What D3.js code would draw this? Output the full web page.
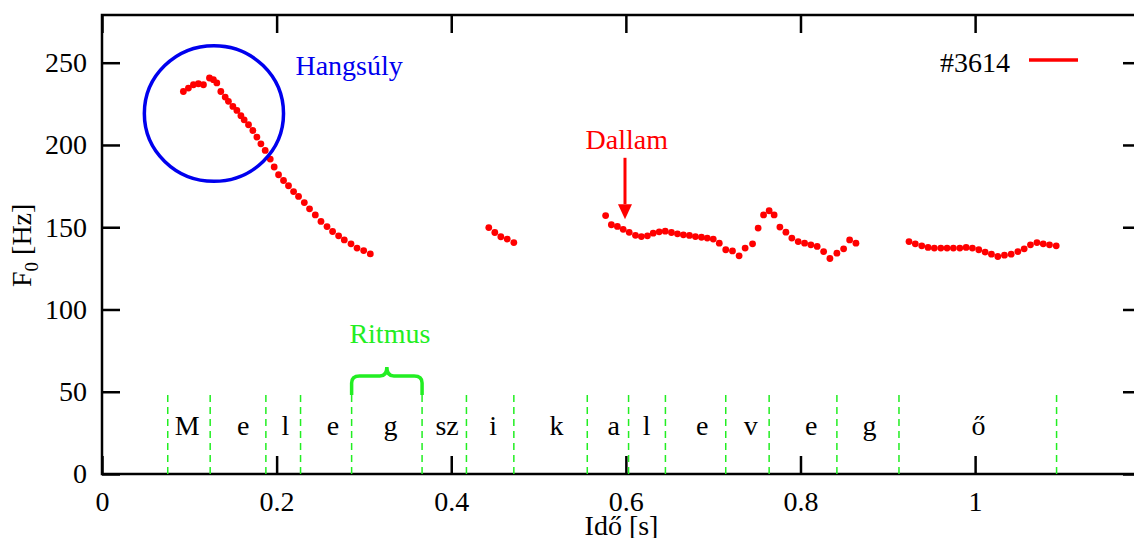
<!DOCTYPE html>
<html>
<head>
<meta charset="utf-8">
<script src="https://cdn.jsdelivr.net/npm/d3@7"></script>
<style>
	body { margin: 0; background: #fff; }
</style>
</head>
<body>
<svg width="1134" height="538"></svg>
<script>
	// F0 track of recording #3614 (time in s, F0 in Hz)
	const f0Time = [
		0.0932, 0.0990, 0.1047, 0.1104, 0.1162, 0.1231, 0.1276, 0.1315, 0.1361, 0.1411,
		0.1448, 0.1499, 0.1545, 0.1591, 0.1628, 0.1678, 0.1728, 0.1774, 0.1820, 0.1869,
		0.1927, 0.1972, 0.2022, 0.2079, 0.2136, 0.2194, 0.2251, 0.2317, 0.2377, 0.2443,
		0.2508, 0.2577, 0.2641, 0.2710, 0.2775, 0.2852, 0.2921, 0.2997, 0.3073,
		0.4430, 0.4499, 0.4568, 0.4641, 0.4717,
		0.5768, 0.5834, 0.5903, 0.5969, 0.6038, 0.6110, 0.6178, 0.6247, 0.6313, 0.6382,
		0.6451, 0.6522, 0.6591, 0.6659, 0.6728, 0.6797, 0.6866, 0.6932, 0.7001, 0.7070,
		0.7144, 0.7221, 0.7297, 0.7366, 0.7451, 0.7515, 0.7577, 0.7641, 0.7698, 0.7764,
		0.7833, 0.7901, 0.7974, 0.8047, 0.8119, 0.8191, 0.8265, 0.8337, 0.8417, 0.8494,
		0.8563, 0.8635,
		0.9243, 0.9315, 0.9389, 0.9461, 0.9533, 0.9607, 0.9679, 0.9751, 0.9825, 0.9897,
		0.9969, 1.0042, 1.0115, 1.0187, 1.0260, 1.0336, 1.0413, 1.0490, 1.0562, 1.0634,
		1.0708, 1.0780, 1.0852, 1.0929
	];
	const f0Hz = [
		232.5, 234.6, 236.6, 237.2, 236.6, 240.7, 239.7, 237.7, 232.5, 229.1,
		226.5, 223.4, 221.0, 217.8, 215.3, 212.3, 208.8, 204.8, 200.7, 196.7,
		191.4, 186.6, 181.9, 178.4, 175.2, 171.7, 168.7, 165.0, 161.2, 157.5,
		153.5, 150.4, 147.4, 144.8, 142.3, 139.9, 137.3, 135.8, 133.8,
		149.8, 146.8, 144.2, 142.8, 140.7,
		157.1, 151.5, 150.5, 148.7, 146.9, 145.1, 144.3, 144.8, 146.4, 147.2,
		147.6, 146.8, 146.0, 145.4, 145.0, 144.3, 143.9, 143.4, 142.8, 140.3,
		136.3, 135.6, 132.6, 137.3, 139.9, 149.5, 157.5, 160.0, 157.5, 150.1,
		147.0, 143.4, 141.3, 140.3, 139.3, 138.3, 135.2, 131.0, 134.2, 136.9,
		142.3, 140.3,
		141.3, 139.9, 138.7, 137.7, 137.3, 137.3, 137.3, 137.3, 137.3, 137.7,
		137.3, 136.3, 134.9, 133.6, 132.2, 133.0, 133.6, 135.2, 136.9, 139.3,
		140.7, 139.9, 139.3, 138.7
	];

	// phoneme segmentation
	const segBounds = [0.0753, 0.1239, 0.1877, 0.2274, 0.2859, 0.3666, 0.4174, 0.4717,
		0.5558, 0.6031, 0.6453, 0.7144, 0.7641, 0.8417, 0.9128, 1.0933];
	const phonemes = ['M', 'e', 'l', 'e', 'g', 'sz', 'i', 'k', 'a', 'l', 'e', 'v', 'e', 'g', 'ő'];
	const phonemeTime = [0.0975, 0.1617, 0.2099, 0.2646, 0.3303, 0.3953, 0.4481, 0.5206,
		0.5860, 0.6239, 0.6875, 0.7430, 0.8122, 0.8789, 1.0039];

	const xTicks = [0, 0.2, 0.4, 0.6, 0.8, 1];
	const yTicks = [0, 50, 100, 150, 200, 250];

	const serif = 'Liberation Serif';
	let svg = d3.select('svg').attr('font-family', serif),
		width = +svg.attr('width'),
		height = svg.attr('height');

	const red = '#ff0000', blue = '#0000ee', green = '#22ee22';
	const fs = 28;

	let x = d3.scaleLinear().domain([0, 1.19]).range([102, 1141]);
	let y = d3.scaleLinear().domain([0, 279]).range([474, 15]);

	svg.append('rect').attr('width', width).attr('height', height).attr('fill', '#fff');

	// axes, ticks pointing inward (gnuplot style, mirrored)
	function styleAxis(g) {
		g.attr('font-family', serif).attr('font-size', fs);
		g.select('.domain').remove();
		g.selectAll('.tick line').attr('stroke', '#000').attr('stroke-width', 2.5);
		g.selectAll('.tick text').attr('fill', '#000');
	}
	svg.append('g').attr('transform', 'translate(0,474)')
		.call(d3.axisBottom(x).tickValues(xTicks).tickSize(-18).tickPadding(17).tickFormat(d3.format('~g')))
		.call(styleAxis);
	svg.append('g').attr('transform', 'translate(0,15)')
		.call(d3.axisTop(x).tickValues(xTicks).tickSize(-18).tickFormat(''))
		.call(styleAxis);
	svg.append('g').attr('transform', 'translate(102,0)')
		.call(d3.axisLeft(y).tickValues(yTicks).tickSize(-18).tickPadding(15))
		.call(styleAxis);
	svg.append('g').attr('transform', 'translate(' + x.range()[1] + ',0)')
		.call(d3.axisRight(y).tickValues(yTicks).tickSize(-18).tickFormat(''))
		.call(styleAxis);

	svg.append('rect')
		.attr('x', x(0)).attr('y', y(279))
		.attr('width', x(1.19) - x(0)).attr('height', y(0) - y(279))
		.attr('fill', 'none').attr('stroke', '#000').attr('stroke-width', 2.5);

	// axis titles
	let yl = svg.append('text')
		.attr('transform', 'translate(31,' + y(139) + ') rotate(-90)')
		.attr('text-anchor', 'middle')
		.attr('font-size', fs);
	yl.append('tspan').text('F');
	yl.append('tspan').attr('dy', 7).attr('font-size', 19).text('0');
	yl.append('tspan').attr('dy', -7).text(' [Hz]');

	svg.append('text')
		.attr('x', x(0.595)).attr('y', 535)
		.attr('text-anchor', 'middle')
		.attr('font-size', fs)
		.text('Idő [s]');

	// segment boundaries
	svg.selectAll('.bound')
		.data(segBounds)
		.enter().append('line')
		.attr('class', 'bound')
		.attr('x1', d => x(d)).attr('x2', d => x(d))
		.attr('y1', y(0)).attr('y2', y(48))
		.attr('stroke', green).attr('stroke-width', 1.5)
		.attr('stroke-dasharray', '7,5');

	svg.selectAll('.phon')
		.data(phonemes)
		.enter().append('text')
		.attr('class', 'phon')
		.attr('x', (d, i) => x(phonemeTime[i]))
		.attr('y', y(24))
		.attr('text-anchor', 'middle')
		.attr('font-size', fs)
		.text(d => d);

	// F0 points
	svg.selectAll('.pt')
		.data(f0Time)
		.enter().append('circle')
		.attr('class', 'pt')
		.attr('cx', d => x(d))
		.attr('cy', (d, i) => y(f0Hz[i]))
		.attr('r', 3.4)
		.attr('fill', red);

	// legend
	svg.append('text')
		.attr('x', 1010).attr('y', 72)
		.attr('text-anchor', 'end')
		.attr('font-size', fs)
		.text('#3614');
	svg.append('line')
		.attr('x1', 1029).attr('x2', 1078).attr('y1', 60).attr('y2', 60)
		.attr('stroke', red).attr('stroke-width', 3.5);

	// Hangsúly: stress circle
	svg.append('ellipse')
		.attr('cx', x(0.1282)).attr('cy', y(219.1))
		.attr('rx', x(0.0797) - x(0)).attr('ry', y(0) - y(41.2))
		.attr('fill', 'none').attr('stroke', blue).attr('stroke-width', 3.5);
	svg.append('text')
		.attr('x', x(0.2216)).attr('y', y(242.5))
		.attr('font-size', fs).attr('fill', blue)
		.text('Hangsúly');

	// Dallam: melody arrow
	svg.append('text')
		.attr('x', x(0.601)).attr('y', y(197.5))
		.attr('text-anchor', 'middle')
		.attr('font-size', fs).attr('fill', red)
		.text('Dallam');
	svg.append('line')
		.attr('x1', x(0.599)).attr('x2', x(0.599))
		.attr('y1', y(192.2)).attr('y2', y(164))
		.attr('stroke', red).attr('stroke-width', 3);
	svg.append('path')
		.attr('d', 'M' + (x(0.599) - 7) + ',' + y(164) + 'L' + (x(0.599) + 7) + ',' + y(164) +
			'L' + x(0.599) + ',' + y(154.9) + 'Z')
		.attr('fill', red);

	// Ritmus: brace over the "g" segment
	let bl = x(segBounds[4]), br = x(segBounds[5]), bm = (bl + br) / 2,
		bb = y(48), bh = y(59.5), bp = y(65);
	svg.append('path')
		.attr('d', 'M' + bl + ',' + bb + 'L' + bl + ',' + (bh + 7) +
			'Q' + bl + ',' + bh + ' ' + (bl + 8) + ',' + bh +
			'L' + (bm - 7) + ',' + bh +
			'Q' + bm + ',' + bh + ' ' + bm + ',' + bp +
			'Q' + bm + ',' + bh + ' ' + (bm + 7) + ',' + bh +
			'L' + (br - 8) + ',' + bh +
			'Q' + br + ',' + bh + ' ' + br + ',' + (bh + 7) +
			'L' + br + ',' + bb)
		.attr('fill', 'none').attr('stroke', green).attr('stroke-width', 3.5);
	svg.append('text')
		.attr('x', bm + 3).attr('y', y(79.5))
		.attr('text-anchor', 'middle')
		.attr('font-size', fs).attr('fill', green)
		.text('Ritmus');
</script>
</body>
</html>
